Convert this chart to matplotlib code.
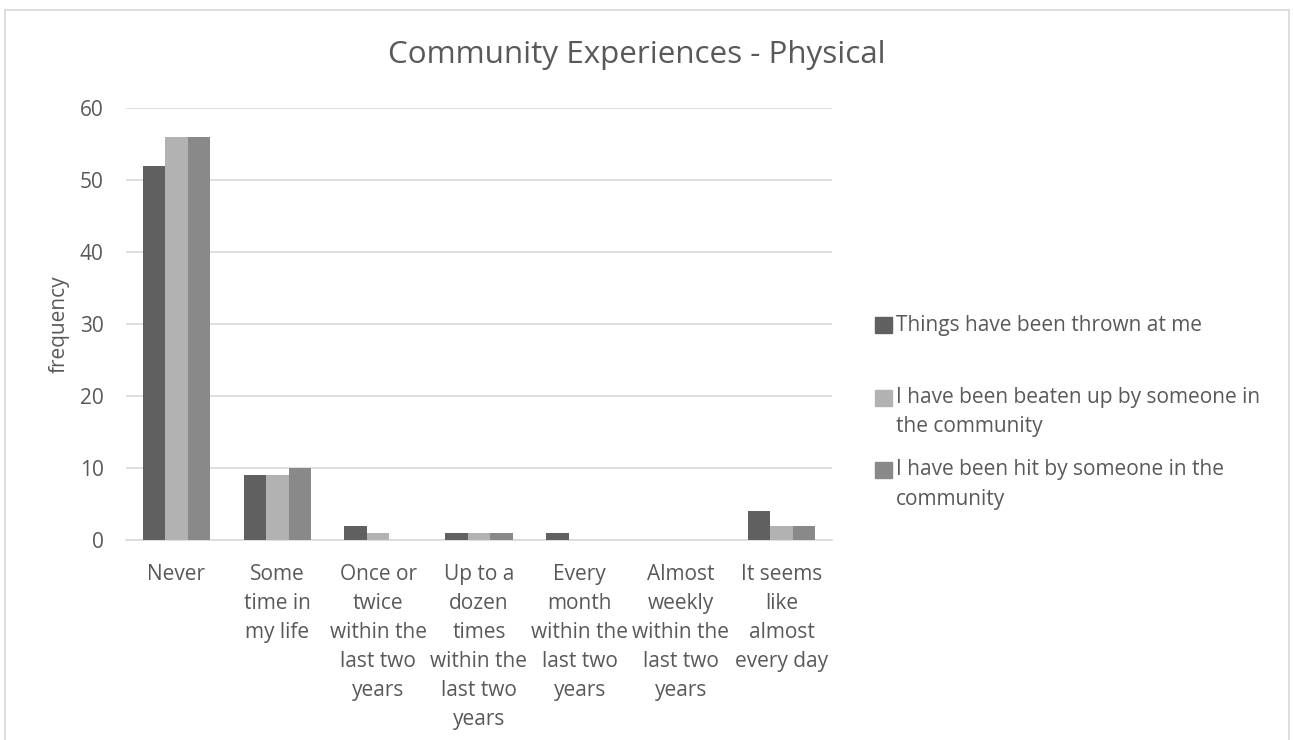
import numpy as np
import matplotlib
matplotlib.use("Agg")
import matplotlib.pyplot as plt
from matplotlib.lines import Line2D
from matplotlib.patches import Rectangle

plt.rcParams["font.family"] = ["Open Sans", "DejaVu Sans"]

categories = ["Never", "Some\ntime in\nmy life", "Once or\ntwice\nwithin the\nlast two\nyears",
              "Up to a\ndozen\ntimes\nwithin the\nlast two\nyears",
              "Every\nmonth\nwithin the\nlast two\nyears",
              "Almost\nweekly\nwithin the\nlast two\nyears",
              "It seems\nlike\nalmost\nevery day"]
series_names = ["Things have been thrown at me",
                "I have been beaten up by someone in\nthe community",
                "I have been hit by someone in the\ncommunity"]
thrown = [52, 9, 2, 1, 1, 0, 4]
beaten = [56, 9, 1, 1, 0, 0, 2]
hit = [56, 10, 0, 1, 0, 0, 2]
colors = ["#606060", "#b2b2b2", "#898989"]
TXT = "#595959"
W, H = 1293, 740

fig = plt.figure(figsize=(W / 100, H / 100), dpi=100)
ax = fig.add_axes([126 / W, 1 - 540 / H, (832 - 126) / W, (540 - 108) / H])

x = np.arange(len(categories))
bw = 0.223
for i, (vals, c, lab) in enumerate(zip([thrown, beaten, hit], colors, series_names)):
    ax.bar(x + (i - 1) * bw, vals, width=bw, color=c, label=lab, zorder=3)

ax.set_xlim(-0.5, len(categories) - 0.5)
ax.set_ylim(0, 60)
ax.set_yticks(range(0, 61, 10))
ax.grid(axis="y", color="#d9d9d9", lw=1.2, zorder=0)
for s in ["top", "right", "left"]:
    ax.spines[s].set_visible(False)
ax.spines["bottom"].set_color("#d9d9d9")
ax.spines["bottom"].set_linewidth(1.2)
ax.tick_params(length=0, labelcolor=TXT, labelsize=15)
ax.tick_params(axis="y", pad=16)
ax.set_xticks(x)
ax.set_xticklabels(categories, linespacing=1.5, va="top")
ax.tick_params(axis="x", pad=17)
ax.set_ylabel("frequency", color=TXT, fontsize=15, labelpad=7)

fig.text(637 / W, 1 - 55 / H, "Community Experiences - Physical",
         ha="center", va="center", fontsize=22.6, color=TXT)

# legend, laid out like the spreadsheet one (fixed slot per entry)
for k, (name, c) in enumerate(zip(series_names, colors)):
    y0 = 325 + 72.5 * k
    fig.add_artist(Rectangle((875 / W, 1 - (y0 + 8) / H), 17 / W, 16 / H,
                             transform=fig.transFigure, color=c))
    for j, line in enumerate(name.split("\n")):
        fig.text(896 / W, 1 - (y0 + 29 * j) / H, line, ha="left", va="center",
                 fontsize=15, color=TXT)

# chart border
bc = "#d9d9d9"
fig.add_artist(Line2D([5 / W, 5 / W], [0, 1 - 10 / H], color=bc, lw=1.2))
fig.add_artist(Line2D([1289 / W, 1289 / W], [0, 1 - 10 / H], color=bc, lw=1.2))
fig.add_artist(Line2D([5 / W, 1289 / W], [1 - 10 / H, 1 - 10 / H], color=bc, lw=1.2))

fig.savefig("out.png", dpi=100)
